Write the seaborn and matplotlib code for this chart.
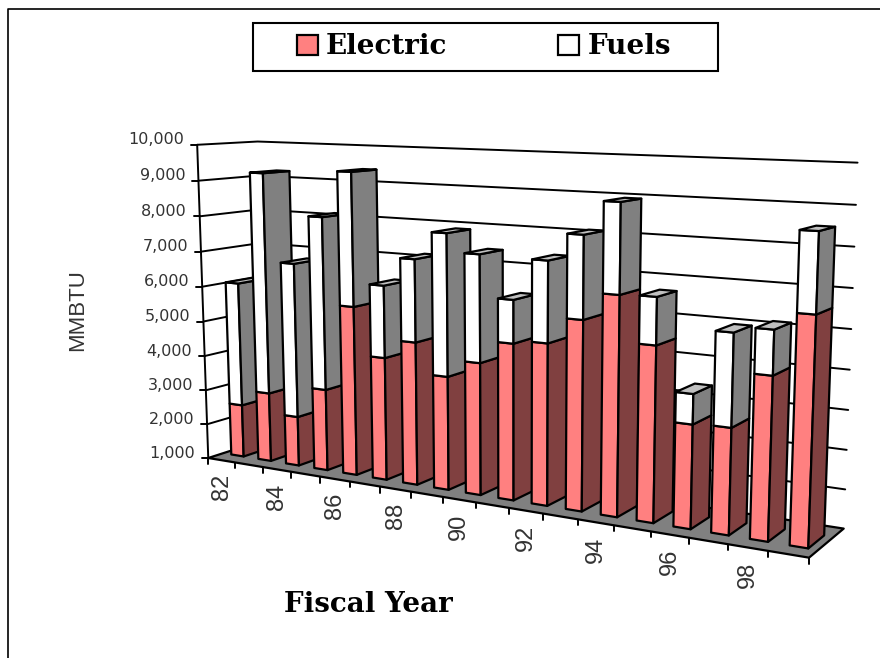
import numpy as np
import matplotlib
matplotlib.use("Agg")
import matplotlib.pyplot as plt
import seaborn as sns
from matplotlib.patches import Patch, Polygon, Rectangle

# Values
years = ["82", "83", "84", "85", "86", "87", "88", "89", "90",
         "91", "92", "93", "94", "95", "96", "97", "98", "99"]
electric = [2520, 2980, 2410, 3300, 5720, 4400, 4920, 4090, 4560,
            5170, 5270, 5960, 6670, 5500, 3640, 3680, 5060, 6600]
fuels = [3550, 6260, 4360, 4820, 3670, 1980, 2240, 3820, 2860,
         1140, 2120, 2140, 2290, 1200, 760, 2320, 1100, 1930]
value_ticks = [1000, 2000, 3000, 4000, 5000, 6000, 7000, 8000, 9000, 10000]
axis_min = 1000
axis_max = 10000

ELECTRIC = "#FF8080"
ELECTRIC_SIDE = "#804040"
FUELS = "#FFFFFF"
FUELS_SIDE = "#808080"
TOP = "#C0C0C0"
FLOOR = "#808080"
TEXT = "#333333"

# Excel style 3D camera: fit a projection from (category, depth, value) to pixels
# using the corners of the plot box
calib = [
    (0, 0, 1000, 208, 457), (0, 0, 3000, 206, 391), (0, 0, 6000, 202, 287), (0, 0, 10000, 197, 145),
    (0, 1, 10000, 258, 141), (0, 1, 1000, 266, 440),
    (18, 1, 10000, 858, 163), (18, 1, 7000, 852, 287), (18, 1, 4000, 848, 411), (18, 1, 1000, 844, 528),
    (18, 0, 1000, 810, 558), (7, 0, 1000, 412, 491), (15, 0, 1000, 688, 538),
]
rows = []
rhs = []
for u, d, h, px, py in calib:
    X = [u, d, h / 1000, 1]
    rows.append(X + [0, 0, 0, 0] + [-px * c for c in X[:3]])
    rows.append([0, 0, 0, 0] + X + [-py * c for c in X[:3]])
    rhs += [px, py]
cam = np.linalg.lstsq(np.array(rows, float), np.array(rhs, float), rcond=None)[0]
cam = np.append(cam, 1).reshape(3, 4)


def project(u, d, h):
    p = cam @ np.array([u, d, h / 1000, 1])
    return p[0] / p[2], p[1] / p[2]


def face(pts, color, zorder=3):
    ax.add_patch(Polygon([project(*p) for p in pts], closed=True, facecolor=color,
                         edgecolor="black", linewidth=1.6, joinstyle="round", zorder=zorder))


def box(u0, u1, d0, d1, h0, h1, front, side):
    face([(u0, d0, h0), (u1, d0, h0), (u1, d0, h1), (u0, d0, h1)], front)
    face([(u1, d0, h0), (u1, d1, h0), (u1, d1, h1), (u1, d0, h1)], side)


sns.set_theme(style="white")
plt.rcParams["font.family"] = ["Liberation Sans", "DejaVu Sans"]

fig = plt.figure(figsize=(8.8, 6.58), dpi=100)
ax = fig.add_axes([0, 0, 1, 1])
ax.set_xlim(0, 880)
ax.set_ylim(658, 0)
ax.axis("off")

# outer chart border, only top and left are in view
ax.plot([8, 8, 880], [658, 8.5, 8.5], color="black", lw=1.2)

n = len(years)

# walls
for v in value_ticks[1:]:
    pts = [project(0, 0, v), project(0, 1, v), project(n, 1, v)]
    ax.plot(*zip(*pts), color="black", lw=1.4, zorder=1)
for v in value_ticks:
    x, y = project(0, 0, v)
    ax.plot([x - 6, x], [y, y], color="black", lw=1.4, zorder=1)
    ax.text(x - 13, y - 5, f"{v:,}", ha="right", va="center", fontsize=11.5,
            family="DejaVu Sans", color=TEXT)
ax.plot(*zip(project(0, 0, axis_min), project(0, 0, axis_max)), color="black", lw=1.4, zorder=1)

# floor
face([(0, 0, axis_min), (n, 0, axis_min), (n, 1, axis_min), (0, 1, axis_min)], FLOOR, zorder=2)
for i in range(n + 1):
    x, y = project(i, 0, axis_min)
    ax.plot([x, x], [y, y + 6], color="black", lw=1.4, zorder=1)

# bars, left to right so the nearer one covers the side of the previous one
u_off, u_w = 0.30, 0.46
d0, d1 = 0.25, 0.70
for i in range(n):
    u0, u1 = i + u_off, i + u_off + u_w
    top = electric[i] + fuels[i]
    box(u0, u1, d0, d1, axis_min, electric[i], ELECTRIC, ELECTRIC_SIDE)
    box(u0, u1, d0, d1, electric[i], top, FUELS, FUELS_SIDE)
    face([(u0, d0, top), (u1, d0, top), (u1, d1, top), (u0, d1, top)], TOP)

# every second year gets a label
for i in range(0, n, 2):
    x, y = project(i + 0.5, 0, axis_min)
    ax.text(x, y + 14, years[i], rotation=90, ha="center", va="top", fontsize=17, color=TEXT)

ax.text(78, 310, "MMBTU", rotation=90, ha="center", va="center", fontsize=16, color=TEXT)
ax.text(368, 604, "Fiscal Year", ha="center", va="center", fontsize=20,
        family="DejaVu Serif", weight="bold", color="black")

# legend
ax.add_patch(Rectangle((253, 23), 465, 48, facecolor="white", edgecolor="black", lw=1.5, zorder=4))
handles = [Patch(facecolor=ELECTRIC, edgecolor="black", lw=1.6, label="Electric"),
           Patch(facecolor=FUELS, edgecolor="black", lw=1.6, label="Fuels")]
leg = ax.legend(handles=handles, ncol=2, loc="center", bbox_to_anchor=(484, 47),
                bbox_transform=ax.transData, frameon=False, handlelength=0.75, handleheight=0.72,
                handletextpad=0.29, columnspacing=4.0, labelcolor="black",
                prop={"family": "DejaVu Serif", "weight": "bold", "size": 20})
leg.set_zorder(5)

fig.savefig("out.png", dpi=100)
